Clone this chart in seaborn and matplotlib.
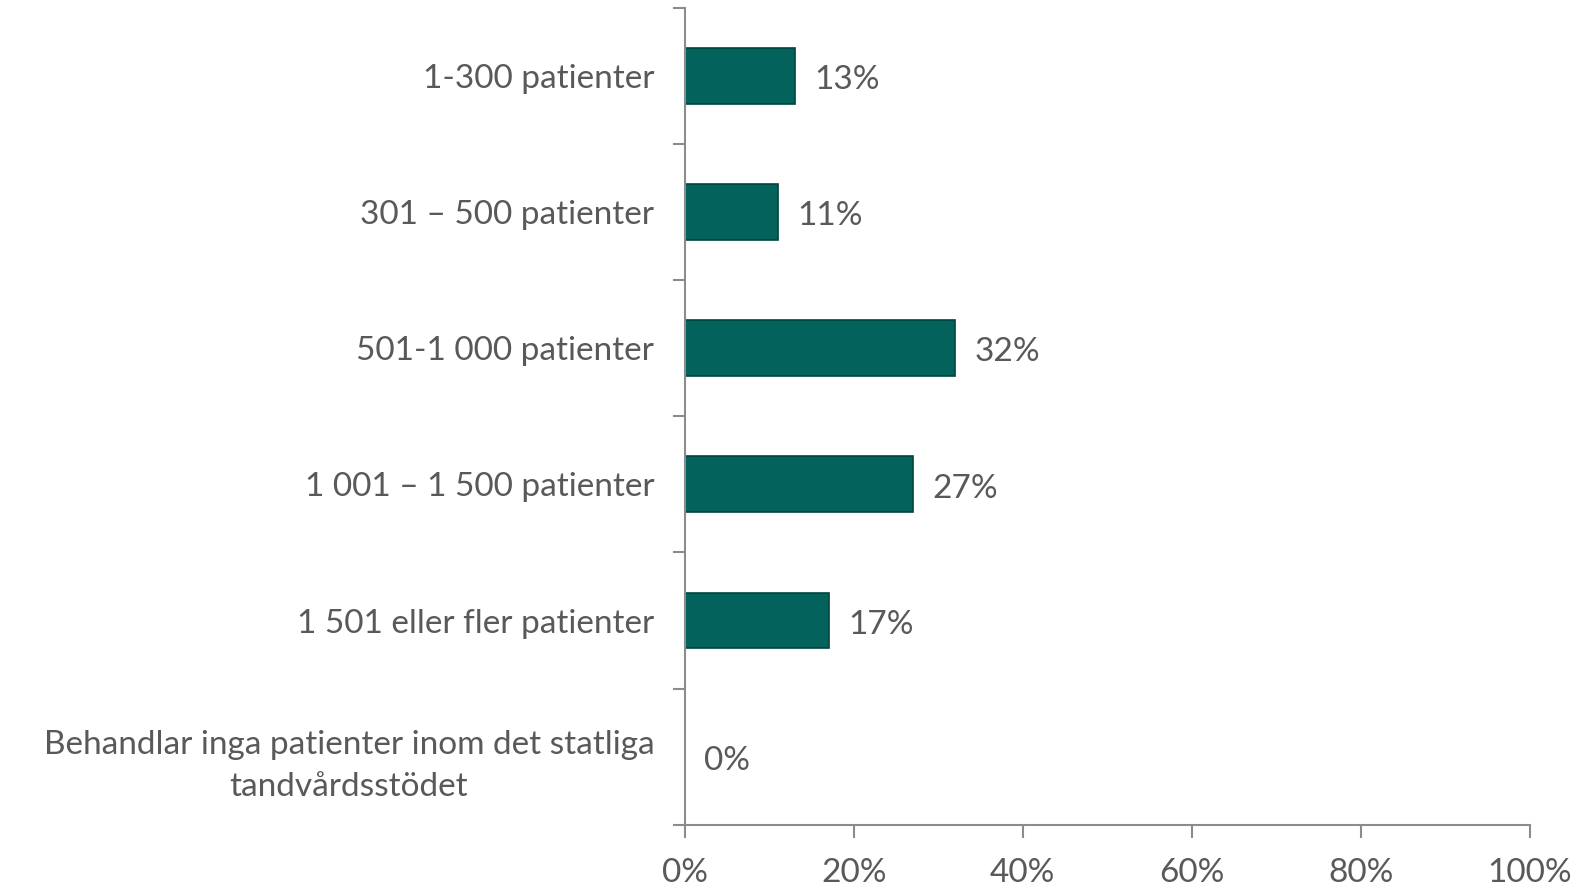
import numpy as np
import pandas as pd
from matplotlib import pyplot as plt
from matplotlib.ticker import FixedLocator, PercentFormatter
import seaborn as sns

sns.set_style("white")
plt.rcParams['font.family'] = ['Lato', 'DejaVu Sans']

# data
kategorier = ['1-300 patienter',
              '301 – 500 patienter',
              '501-1 000 patienter',
              '1 001 – 1 500 patienter',
              '1 501 eller fler patienter',
              'Behandlar inga patienter inom det statliga\ntandvårdsstödet']
andel = [13, 11, 32, 27, 17, 0]

df = pd.DataFrame({'kategori': kategorier, 'andel': andel})

textfarg = '#595959'
axelfarg = '#8c8c8c'

fig = plt.figure(figsize=(15.77, 8.88), dpi=100)
ax = fig.add_axes([0.4343, 0.0713, 0.970 - 0.4343, 0.991 - 0.0713])

sns.barplot(data=df, x='andel', y='kategori', orient='h', ax=ax,
            color='#03625C', saturation=1, width=0.41,
            edgecolor='#01443F', linewidth=1.2)

etiketter = ax.bar_label(ax.containers[0], labels=[f'{v}%' for v in andel],
                         padding=16, fontsize=24, color=textfarg)
for t in etiketter:
    t.xyann = (14, -3)  # a little lower, as in the reference

ax.set_xlim(0, 100)
ax.set_ylim(5.5, -0.5)
ax.set_xticks(np.arange(0, 101, 20))
ax.xaxis.set_major_formatter(PercentFormatter(decimals=0))
ax.set_xlabel('')
ax.set_ylabel('')

for s in ['top', 'right']:
    ax.spines[s].set_visible(False)
for s in ['left', 'bottom']:
    ax.spines[s].set_color(axelfarg)
    ax.spines[s].set_linewidth(1.5)

# tick marks between categories, like Excel
ax.yaxis.set_minor_locator(FixedLocator(np.arange(-0.5, 6, 1)))
ax.tick_params(axis='y', which='major', length=0, pad=22, labelsize=24, labelcolor=textfarg)
ax.tick_params(axis='y', which='minor', length=9, width=1.5, color=axelfarg, left=True)
ax.tick_params(axis='x', which='major', length=9, width=1.5, color=axelfarg, bottom=True,
               pad=15, labelsize=24, labelcolor=textfarg)
for lab in ax.get_yticklabels():
    lab.set_multialignment('center')
    lab.set_linespacing(1.5)

fig.savefig('out.png', dpi=100)
